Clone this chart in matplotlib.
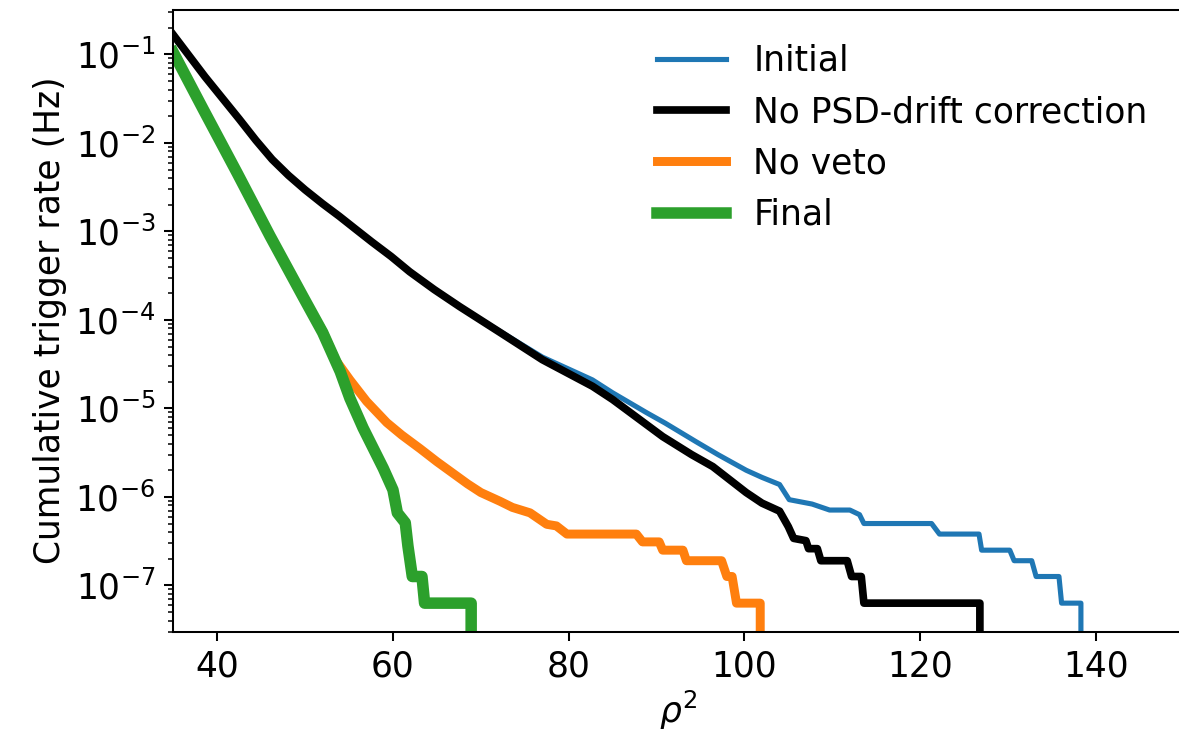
"""
Taxa cumulativa de triggers vs rho^2 para as varias etapas do pipeline.
Gera out.png (1179x744).
"""
import matplotlib.pyplot as plt

DPI = 184.2

# rho^2 e taxa cumulativa (Hz)
initial_x = [35, 38.6, 42.5, 44.4, 46.25, 48.1, 50, 52, 53.9, 55.8, 57.6,
             59.8, 61.9, 64.7, 67.6, 72.2, 77,
             82.7, 85, 88.9, 91, 94.5, 97, 100.2, 102, 104, 105.1, 107.7, 109.7,
             112, 113.1, 113.6, 121.3, 122.2, 126.7, 127.0, 130.2, 130.7,
             132.7, 133.2, 135.8, 136.1, 138.3, 138.3]
initial_rate = [1.66e-1, 5.6e-2, 1.86e-2, 1.07e-2, 6.5e-3, 4.3e-3, 2.95e-3,
                2.05e-3, 1.48e-3, 1.05e-3, 7.6e-4, 5.2e-4, 3.5e-4, 2.2e-4,
                1.41e-4, 7.4e-5, 3.8e-5, 2.1e-5, 1.5e-5, 8.9e-6,
                6.8e-6, 4.2e-6, 3.0e-6, 2.0e-6, 1.66e-6, 1.38e-6, 9.3e-7,
                8.3e-7, 7.1e-7, 7.1e-7, 6.3e-7, 5.0e-7, 5.0e-7, 3.8e-7, 3.8e-7,
                2.5e-7, 2.5e-7, 1.9e-7, 1.9e-7, 1.26e-7, 1.26e-7, 6.3e-8,
                6.3e-8, 0]

nopsd_x = [35, 38.6, 42.5, 44.4, 46.25, 48.1, 50, 52, 53.9, 55.8, 57.6, 59.8,
           61.9, 64.7, 67.6, 72.2, 77, 82.7, 85, 90.7, 94, 96.4, 100.2, 102,
           104, 105, 105.6, 107, 107.3, 108.3, 108.7, 111.7, 112.2, 113.3,
           113.6, 126.8, 126.8]
nopsd_rate = [1.66e-1, 5.6e-2, 1.86e-2, 1.07e-2, 6.5e-3, 4.3e-3, 2.95e-3,
              2.05e-3, 1.48e-3, 1.05e-3, 7.6e-4, 5.2e-4, 3.5e-4, 2.2e-4,
              1.41e-4, 7.2e-5, 3.55e-5, 1.78e-5, 1.26e-5, 4.8e-6,
              3.0e-6, 2.2e-6, 1.12e-6, 8.5e-7, 6.9e-7, 4.6e-7, 3.4e-7, 3.2e-7,
              2.6e-7, 2.6e-7, 1.9e-7, 1.9e-7, 1.26e-7, 1.26e-7, 6.3e-8, 6.3e-8, 0]

noveto_x = [35, 38.4, 42.3, 46, 49.8, 52, 53.5, 55.1, 57, 59.3, 61, 63.1, 65,
            68.5, 70, 72.2, 73.6, 75.6, 77.5, 78.6, 79.8, 87.7, 88.4, 90.3,
            90.7, 93.0, 93.4, 97.4, 98.0, 98.6, 99.1, 101.8, 101.8]
noveto_rate = [1.05e-1, 2.4e-2, 4.5e-3, 8.9e-4, 1.8e-4, 7.5e-5, 3.5e-5, 2.1e-5,
               1.2e-5, 6.9e-6, 5.0e-6, 3.5e-6, 2.5e-6, 1.4e-6, 1.12e-6, 8.9e-7,
               7.6e-7, 6.6e-7, 4.9e-7, 4.7e-7, 3.8e-7, 3.8e-7, 3.1e-7, 3.1e-7,
               2.5e-7, 2.5e-7, 1.9e-7, 1.9e-7, 1.26e-7, 1.26e-7, 6.3e-8, 6.3e-8, 0]

final_x = [35, 38.4, 42.3, 46, 49.8, 52, 54, 55.1, 56.6, 58.9, 60, 60.5, 61.4,
           61.7, 62.2, 63.3, 63.6, 68.9, 68.9]
final_rate = [1.05e-1, 2.4e-2, 4.5e-3, 8.9e-4, 1.8e-4, 7.2e-5, 2.6e-5, 1.3e-5,
              6.0e-6, 2.1e-6, 1.2e-6, 6.6e-7, 5.1e-7, 2.8e-7, 1.26e-7, 1.26e-7,
              6.3e-8, 6.3e-8, 0]


def main() -> None:
    plt.rcParams.update({'font.size': 13.5})

    fig = plt.figure(figsize=(1179 / DPI, 744 / DPI), dpi=DPI)
    ax = fig.add_axes([0.147, 0.151, 0.857, 0.836])

    ax.plot(initial_x, initial_rate, color='#1f77b4', lw=2, label='Initial')
    ax.plot(nopsd_x, nopsd_rate, color='black', lw=3,
            label='No PSD-drift correction')
    ax.plot(noveto_x, noveto_rate, color='#ff7f0e', lw=3.5, label='No veto')
    ax.plot(final_x, final_rate, color='#2ca02c', lw=4.5, label='Final')

    ax.set_yscale('log', nonpositive='clip')
    ax.set_xlim(35, 150)
    ax.set_ylim(3.0e-8, 3.2e-1)
    ax.set_xlabel(r'$\rho^2$', labelpad=2)
    ax.set_ylabel('Cumulative trigger rate (Hz)', labelpad=3)
    ax.legend(loc='upper right', frameon=False, bbox_to_anchor=(0.995, 0.995))

    fig.savefig('out.png', dpi=DPI)
    plt.close(fig)


if __name__ == '__main__':
    main()
